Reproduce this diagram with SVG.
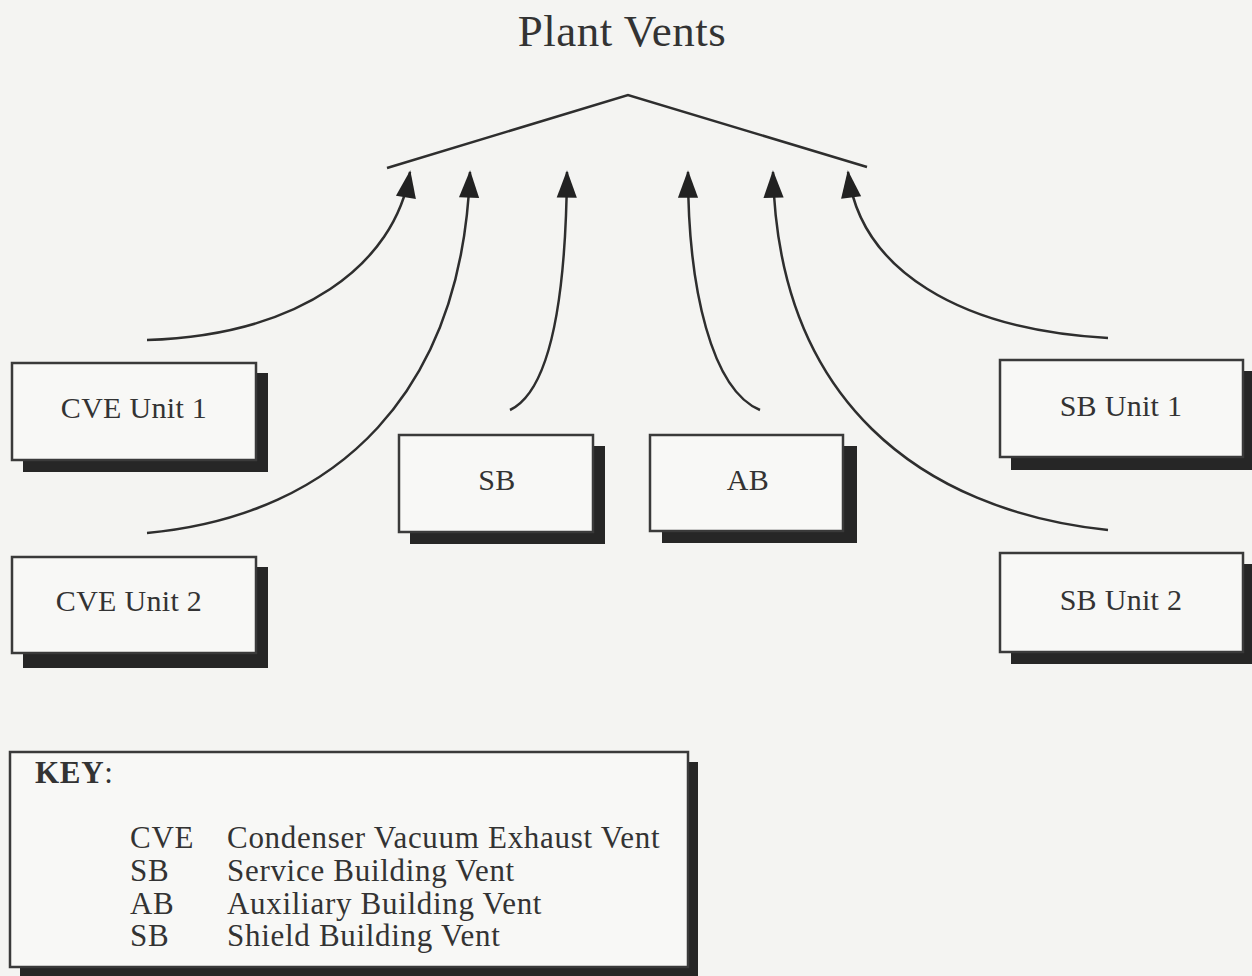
<svg xmlns="http://www.w3.org/2000/svg" width="1252" height="976" viewBox="0 0 1252 976">
<style>
.bg{fill:#f4f4f2}
.shadow{fill:#262626}
.box{fill:#f8f8f6;stroke:#3a3a3a;stroke-width:2.5}
.lbl{font-family:"Liberation Serif","Times New Roman",serif;font-size:30px;fill:#333;text-anchor:middle;letter-spacing:0.3px}
.key{font-family:"Liberation Serif","Times New Roman",serif;font-size:31px;fill:#333;letter-spacing:0.7px}
.conn{fill:none;stroke:#2e2e2e;stroke-width:2.5}
</style>
<defs>
<marker id="ah" viewBox="0 0 30 24" refX="28" refY="12" markerWidth="30" markerHeight="22" markerUnits="userSpaceOnUse" orient="auto">
<path d="M0,1 L30,12 L0,23 Z" fill="#222"/>
</marker>
</defs>
<rect class="bg" x="0" y="0" width="1252" height="976"/>
<text x="622" y="46" font-family="Liberation Serif, Times New Roman, serif" font-size="45" fill="#333" text-anchor="middle" letter-spacing="0.5">Plant Vents</text>
<g id="connectors">
<polyline class="conn" points="387,168 628,95 867,167"/>
<path class="conn" marker-end="url(#ah)" d="M147,340 C300,335 395,265 410,172"/>
<path class="conn" marker-end="url(#ah)" d="M147,533 C340,515 462,390 470,172"/>
<path class="conn" marker-end="url(#ah)" d="M510,410 C552,390 566,290 567,172"/>
<path class="conn" marker-end="url(#ah)" d="M760,410 C712,390 688,290 688,172"/>
<path class="conn" marker-end="url(#ah)" d="M1108,530 C920,510 778,400 773,172"/>
<path class="conn" marker-end="url(#ah)" d="M1108,338 C960,330 860,270 848,172"/>
</g>
<g id="cve1">
<rect class="shadow" x="23" y="373" width="245" height="99"/>
<rect class="box" x="12" y="363" width="244" height="97"/>
<text class="lbl" x="134" y="418">CVE Unit 1</text>
</g>
<g id="cve2">
<rect class="shadow" x="23" y="567" width="245" height="101"/>
<rect class="box" x="12" y="557" width="244" height="96"/>
<text class="lbl" x="129" y="611">CVE Unit 2</text>
</g>
<g id="sb">
<rect class="shadow" x="410" y="446" width="195" height="98"/>
<rect class="box" x="399" y="435" width="194" height="97"/>
<text class="lbl" x="497" y="490">SB</text>
</g>
<g id="ab">
<rect class="shadow" x="662" y="446" width="195" height="97"/>
<rect class="box" x="650" y="435" width="193" height="96"/>
<text class="lbl" x="748" y="490">AB</text>
</g>
<g id="sbu1">
<rect class="shadow" x="1011" y="371" width="245" height="99"/>
<rect class="box" x="1000" y="360" width="243" height="97"/>
<text class="lbl" x="1121" y="416">SB Unit 1</text>
</g>
<g id="sbu2">
<rect class="shadow" x="1011" y="564" width="245" height="100"/>
<rect class="box" x="1000" y="553" width="243" height="99"/>
<text class="lbl" x="1121" y="610">SB Unit 2</text>
</g>
<g id="keybox">
<rect class="shadow" x="20" y="762" width="678" height="214"/>
<rect class="box" x="10" y="752" width="678" height="215"/>
<text class="key" x="35" y="783"><tspan font-weight="bold">KEY</tspan>:</text>
<text class="key" x="130" y="848">CVE</text>
<text class="key" x="227" y="848">Condenser Vacuum Exhaust Vent</text>
<text class="key" x="130" y="881">SB</text>
<text class="key" x="227" y="881">Service Building Vent</text>
<text class="key" x="130" y="914">AB</text>
<text class="key" x="227" y="914">Auxiliary Building Vent</text>
<text class="key" x="130" y="946">SB</text>
<text class="key" x="227" y="946">Shield Building Vent</text>
</g>
</svg>
